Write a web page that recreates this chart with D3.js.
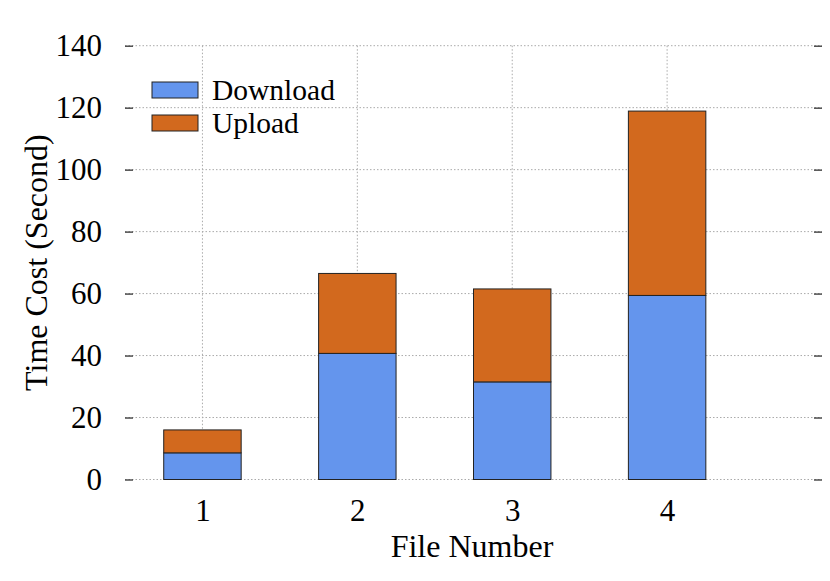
<!DOCTYPE html>
<html>
<head>
<meta charset="utf-8">
<script src="https://cdn.jsdelivr.net/npm/d3@7"></script>
<style>
  body { margin: 0; background: #fff; }
</style>
</head>
<body>
<div id="chart"></div>
<script>
// 数据
const files = [1, 2, 3, 4];
const download = [8.6, 40.7, 31.5, 59.4];
const upload = [7.4, 25.8, 30.0, 59.5];
const yTicks = [0, 20, 40, 60, 80, 100, 120, 140];
const seriesNames = ["Download", "Upload"];
const seriesColors = ["#6495ED", "#D2691E"];

const width = 830, height = 581;
const plotLeft = 125, plotRight = 822, plotTop = 45.7, plotBottom = 479.5;
const serif = "'Liberation Serif', 'Times New Roman', serif";

const svg = d3.select("#chart").append("svg")
    .attr("width", width)
    .attr("height", height)
    .style("font-family", serif);

const x = d3.scaleLinear().domain([0.5, 5]).range([plotLeft, plotRight]);
const y = d3.scaleLinear().domain([0, 140]).range([plotBottom, plotTop]);

// 网格线
const grid = svg.append("g");
grid.selectAll(".hgrid").data(yTicks).join("line")
    .attr("x1", plotLeft).attr("x2", plotRight)
    .attr("y1", d => y(d)).attr("y2", d => y(d))
    .attr("stroke", "#aaa").attr("stroke-width", 1)
    .attr("stroke-dasharray", "1.5,2");
grid.selectAll(".vgrid").data(files).join("line")
    .attr("x1", d => x(d)).attr("x2", d => x(d))
    .attr("y1", plotTop).attr("y2", plotBottom)
    .attr("stroke", "#aaa").attr("stroke-width", 1)
    .attr("stroke-dasharray", "1.5,2");

// 坐标轴
const yAxisL = d3.axisLeft(y).tickValues(yTicks).tickSize(8).tickPadding(23);
const yAxisR = d3.axisRight(y).tickValues(yTicks).tickSize(8).tickFormat("");
const xAxis = d3.axisBottom(x).tickValues(files).tickSize(0).tickPadding(19).tickFormat(d3.format("d"));

const gL = svg.append("g").attr("transform", `translate(${plotLeft + 8},0)`).call(yAxisL);
const gR = svg.append("g").attr("transform", `translate(${plotRight - 8},0)`).call(yAxisR);
const gX = svg.append("g").attr("transform", `translate(0,${plotBottom})`).call(xAxis);
[gL, gR, gX].forEach(g => {
    g.attr("font-family", serif).attr("font-size", 31);
    g.select(".domain").remove();
    g.selectAll(".tick line").attr("stroke", "#333").attr("stroke-width", 1.3);
    g.selectAll("text").attr("fill", "#000");
});

// 堆叠柱
const rows = files.map((f, i) => ({ file: f, Download: download[i], Upload: upload[i] }));
const stack = d3.stack().keys(seriesNames)(rows);
const barW = x(1.25) - x(0.75);

svg.append("g").selectAll("g").data(stack).join("g")
    .attr("fill", (d, i) => seriesColors[i])
    .selectAll("rect").data(d => d).join("rect")
    .attr("x", d => x(d.data.file) - barW / 2)
    .attr("y", d => y(d[1]))
    .attr("width", barW)
    .attr("height", d => y(d[0]) - y(d[1]))
    .attr("stroke", "#222")
    .attr("stroke-width", 1);

// 图例
const legend = svg.append("g").attr("transform", "translate(152,82)");
seriesNames.forEach((name, i) => {
    legend.append("rect")
        .attr("x", 0).attr("y", i * 33)
        .attr("width", 46).attr("height", 16)
        .attr("fill", seriesColors[i])
        .attr("stroke", "#222").attr("stroke-width", 1);
    legend.append("text")
        .attr("x", 60).attr("y", i * 33 + 18)
        .attr("font-size", 29.5)
        .text(name);
});

// 坐标轴标题
svg.append("text")
    .attr("transform", `translate(47,${(plotTop + plotBottom) / 2}) rotate(-90)`)
    .attr("text-anchor", "middle")
    .attr("font-size", 32)
    .text("Time Cost (Second)");
svg.append("text")
    .attr("x", 472).attr("y", 557)
    .attr("text-anchor", "middle")
    .attr("font-size", 32)
    .text("File Number");
</script>
</body>
</html>
